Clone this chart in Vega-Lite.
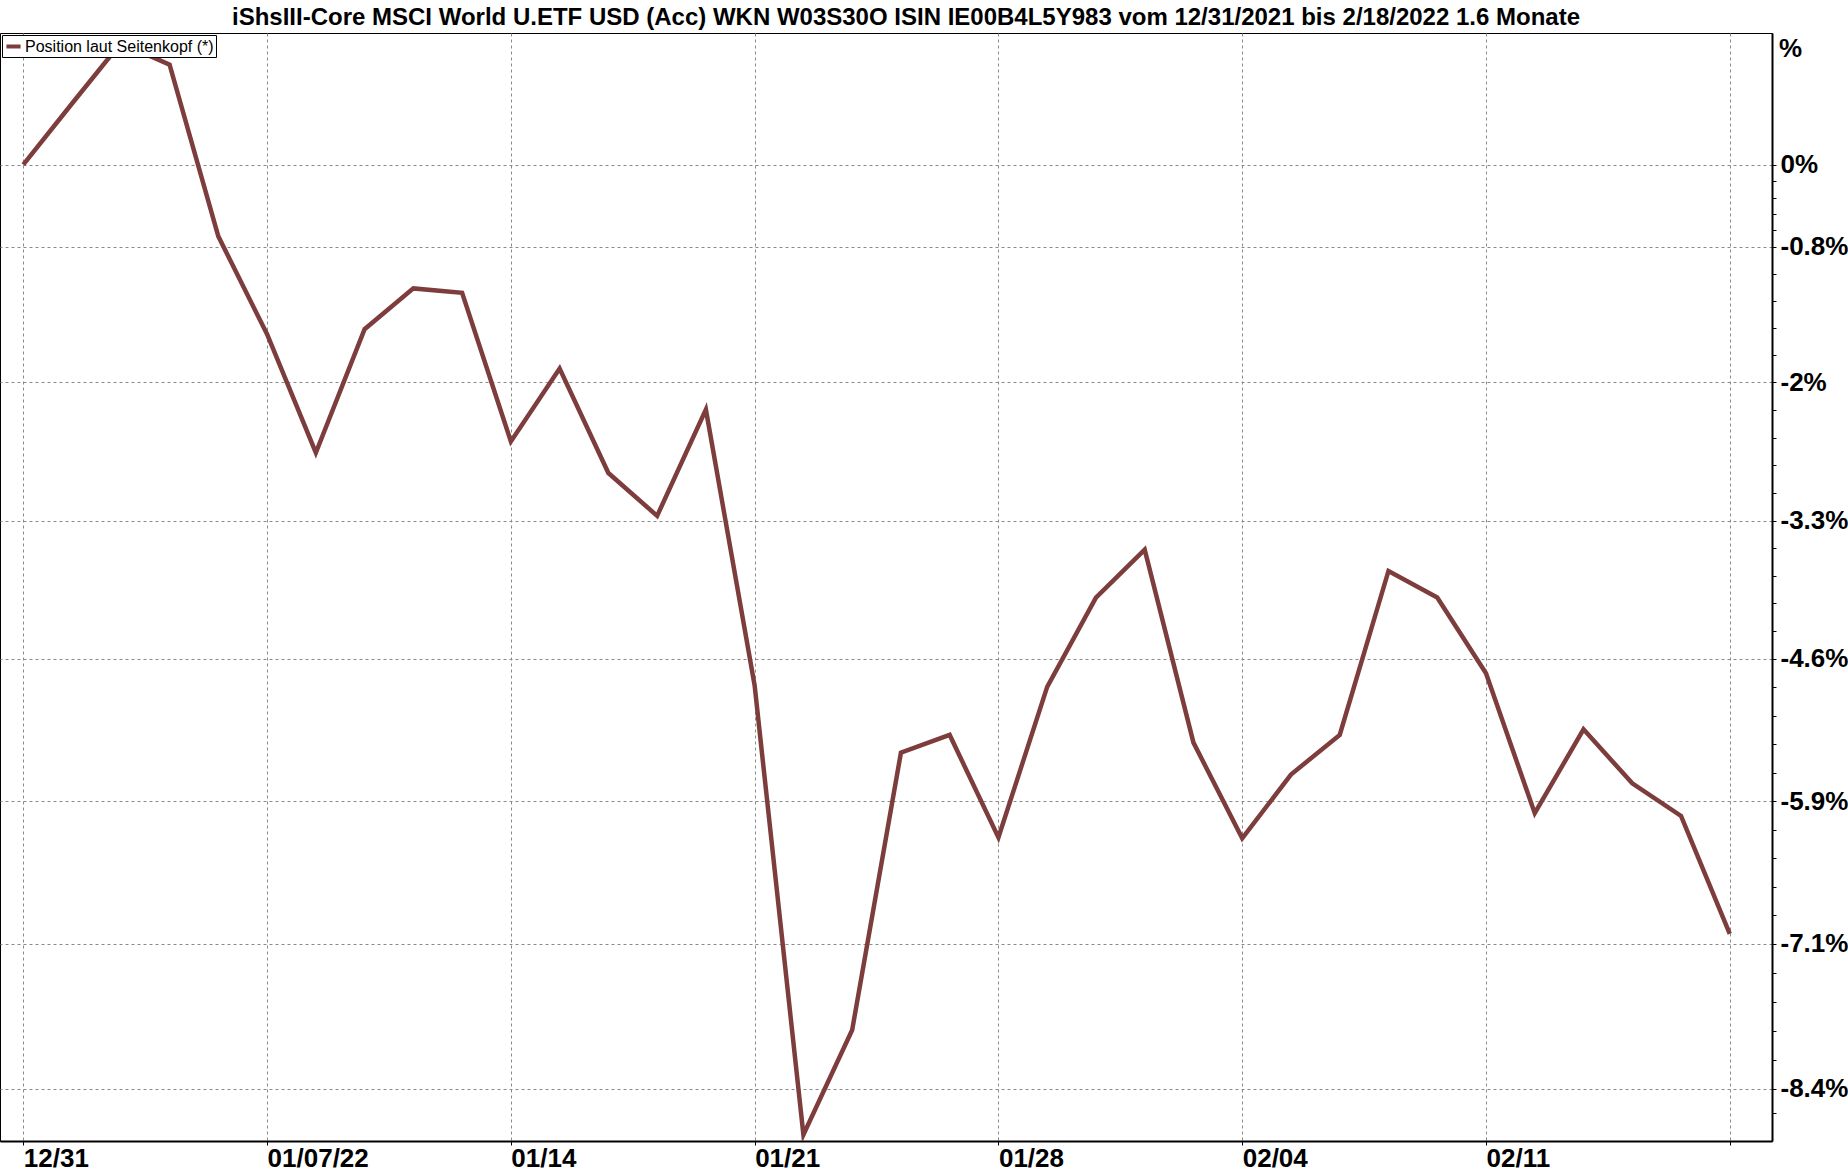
{
  "$schema": "https://vega.github.io/schema/vega-lite/v6.json",
  "width": 1772,
  "height": 1108,
  "autosize": "none",
  "padding": {"left": 0, "top": 33, "right": 76, "bottom": 33},
  "background": "white",
  "title": {
    "text": "iShsIII-Core MSCI World U.ETF USD (Acc) WKN W03S30O ISIN IE00B4L5Y983 vom 12/31/2021 bis 2/18/2022 1.6 Monate",
    "anchor": "middle",
    "frame": "group",
    "dx": 20,
    "offset": 3,
    "font": "Liberation Sans",
    "fontSize": 24,
    "fontWeight": "bold",
    "color": "black"
  },
  "data": {
    "values": [
      {"i": 0, "date": "12/31", "pct": 0},
      {"i": 1, "date": "01/03", "pct": 0.556},
      {"i": 2, "date": "01/04", "pct": 1.105},
      {"i": 3, "date": "01/05", "pct": 0.909},
      {"i": 4, "date": "01/06", "pct": -0.652},
      {"i": 5, "date": "01/07", "pct": -1.542},
      {"i": 6, "date": "01/10", "pct": -2.619},
      {"i": 7, "date": "01/11", "pct": -1.496},
      {"i": 8, "date": "01/12", "pct": -1.125},
      {"i": 9, "date": "01/13", "pct": -1.165},
      {"i": 10, "date": "01/14", "pct": -2.517},
      {"i": 11, "date": "01/17", "pct": -1.853},
      {"i": 12, "date": "01/18", "pct": -2.804},
      {"i": 13, "date": "01/19", "pct": -3.193},
      {"i": 14, "date": "01/20", "pct": -2.227},
      {"i": 15, "date": "01/21", "pct": -4.736},
      {"i": 16, "date": "01/24", "pct": -8.82},
      {"i": 17, "date": "01/25", "pct": -7.868},
      {"i": 18, "date": "01/26", "pct": -5.347},
      {"i": 19, "date": "01/27", "pct": -5.185},
      {"i": 20, "date": "01/28", "pct": -6.117},
      {"i": 21, "date": "01/31", "pct": -4.748},
      {"i": 22, "date": "02/01", "pct": -3.937},
      {"i": 23, "date": "02/02", "pct": -3.5},
      {"i": 24, "date": "02/03", "pct": -5.255},
      {"i": 25, "date": "02/04", "pct": -6.125},
      {"i": 26, "date": "02/07", "pct": -5.545},
      {"i": 27, "date": "02/08", "pct": -5.185},
      {"i": 28, "date": "02/09", "pct": -3.694},
      {"i": 29, "date": "02/10", "pct": -3.936},
      {"i": 30, "date": "02/11", "pct": -4.625},
      {"i": 31, "date": "02/14", "pct": -5.897},
      {"i": 32, "date": "02/15", "pct": -5.134},
      {"i": 33, "date": "02/16", "pct": -5.625},
      {"i": 34, "date": "02/17", "pct": -5.921},
      {"i": 35, "date": "02/18", "pct": -6.994}
    ]
  },
  "transform": [{"calculate": "'Position laut Seitenkopf (*)'", "as": "series"}],
  "mark": {"type": "line", "strokeWidth": 4.5, "strokeJoin": "miter", "clip": true},
  "encoding": {
    "x": {
      "field": "i",
      "type": "quantitative",
      "scale": {"domain": [-0.478, 35.866], "nice": false, "zero": false},
      "axis": {
        "title": null,
        "values": [0, 5, 10, 15, 20, 25, 30, 35],
        "labelExpr": "datum.value == 0 ? '12/31' : datum.value == 5 ? '01/07/22' : datum.value == 10 ? '01/14' : datum.value == 15 ? '01/21' : datum.value == 20 ? '01/28' : datum.value == 25 ? '02/04' : datum.value == 30 ? '02/11' : ''",
        "labelAlign": "left",
        "labelBaseline": "top",
        "labelPadding": 0,
        "labelFont": "Liberation Sans",
        "labelFontSize": 26,
        "labelFontWeight": "bold",
        "labelColor": "black",
        "labelFlush": false,
        "labelOverlap": false,
        "tickSize": 4,
        "tickColor": "black",
        "domainColor": "black",
        "domainWidth": 2,
        "grid": true,
        "gridColor": "#8a8a8a",
        "gridDash": [3, 3],
        "gridWidth": 1
      }
    },
    "y": {
      "field": "pct",
      "type": "quantitative",
      "scale": {"domain": [-8.877, 1.197], "nice": false, "zero": false},
      "axis": {
        "orient": "right",
        "title": "%",
        "titleAngle": 0,
        "titleX": 18,
        "titleY": 15,
        "titleAlign": "center",
        "titleBaseline": "middle",
        "titleFont": "Liberation Sans",
        "titleFontSize": 26,
        "titleFontWeight": "bold",
        "titleColor": "black",
        "values": [0, -0.15, -0.299, -0.449, -0.598, -0.748, -0.994, -1.24, -1.487, -1.733, -1.979, -2.23, -2.482, -2.733, -2.985, -3.236, -3.487, -3.738, -3.989, -4.24, -4.491, -4.75, -5.01, -5.269, -5.529, -5.788, -6.047, -6.307, -6.566, -6.826, -7.085, -7.349, -7.612, -7.876, -8.139, -8.403, -8.62],
        "labelExpr": "datum.value == 0 ? '0%' : datum.value == -0.748 ? '-0.8%' : datum.value == -1.979 ? '-2%' : datum.value == -3.236 ? '-3.3%' : datum.value == -4.491 ? '-4.6%' : datum.value == -5.788 ? '-5.9%' : datum.value == -7.085 ? '-7.1%' : datum.value == -8.403 ? '-8.4%' : ''",
        "labelAlign": "left",
        "labelBaseline": "middle",
        "labelPadding": 4,
        "labelFont": "Liberation Sans",
        "labelFontSize": 26,
        "labelFontWeight": "bold",
        "labelColor": "black",
        "labelFlush": false,
        "labelOverlap": false,
        "tickSize": 4,
        "tickColor": "black",
        "domainColor": "black",
        "domainWidth": 2,
        "grid": true,
        "gridColor": "#8a8a8a",
        "gridDash": [3, 3],
        "gridWidth": 1,
        "gridOpacity": {
          "condition": {
            "test": "indexof([0, -0.748, -1.979, -3.236, -4.491, -5.788, -7.085, -8.403], datum.value) >= 0",
            "value": 1
          },
          "value": 0
        }
      }
    },
    "color": {
      "field": "series",
      "type": "nominal",
      "scale": {"range": ["#7d3d3d"]},
      "legend": {
        "title": null,
        "orient": "none",
        "legendX": 2,
        "legendY": 2,
        "padding": 2,
        "strokeColor": "black",
        "fillColor": "white",
        "symbolType": "stroke",
        "symbolStrokeWidth": 4,
        "symbolSize": 200,
        "labelFont": "Liberation Sans",
        "labelFontSize": 16,
        "labelColor": "black",
        "labelOffset": 2,
        "labelLimit": 400
      }
    }
  },
  "config": {
    "view": {"stroke": "black", "strokeWidth": 1}
  }
}
